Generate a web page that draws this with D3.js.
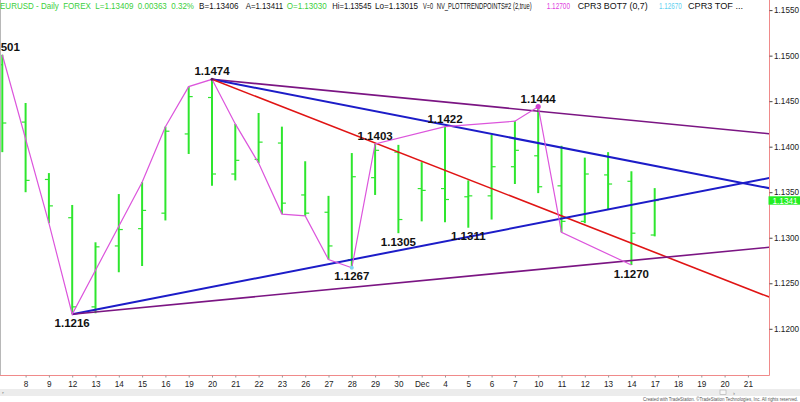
<!DOCTYPE html>
<html>
<head>
<meta charset="utf-8">
<script src="https://cdn.jsdelivr.net/npm/d3@7"></script>
<style>
  body { margin: 0; background: #fff; }
  svg { display: block; font-family: Arial, "Liberation Sans", sans-serif; }
</style>
</head>
<body>
<svg id="chart" width="800" height="402"></svg>
<script>
// ---- EURUSD daily bars (Nov 7 – Dec 17), plus empty future sessions to Dec 21 ----
const dayLabels = ['7','8','9','12','13','14','15','16','19','20','21','22','23','26','27','28','29','30',
                   'Dec','4','5','6','7','10','11','12','13','14','17','18','19','20','21'];
const opens  = [1.1490,1.1427,1.1364,1.1322,1.1224,1.1291,1.1310,1.1327,1.1414,1.1454,1.1370,1.1386,1.1404,1.1347,1.1328,
                1.1276,1.1366,1.1394,1.1354,1.1354,1.1345,1.1346,1.1378,1.1390,1.1357,1.1318,1.1369,1.1362,1.13030];
const highs  = [1.1501,1.1448,1.1371,1.1336,1.1295,1.1348,1.1361,1.1422,1.1466,1.1474,1.1425,1.1437,1.1422,1.1384,1.1346,
                1.1393,1.1403,1.1402,1.1383,1.1422,1.1363,1.1413,1.1428,1.1444,1.1401,1.1388,1.1394,1.1373,1.13545];
const lows   = [1.1394,1.1350,1.1316,1.1216,1.1217,1.1262,1.1269,1.1319,1.1392,1.1357,1.1363,1.1382,1.1326,1.1324,1.1276,
                1.1267,1.1347,1.1305,1.1318,1.1317,1.1311,1.1320,1.1359,1.1349,1.1306,1.1316,1.1331,1.1270,1.13015];
const closes = [1.1426,1.1363,1.1335,1.1224,1.1290,1.1309,1.1330,1.1417,1.1455,1.1370,1.1385,1.1405,1.1338,1.1327,1.1291,
                1.1367,1.1396,1.1320,1.1352,1.1342,1.1346,1.1378,1.1396,1.1356,1.1318,1.1370,1.1359,1.1305,1.13409];
const lastPrice = 1.13409;

// Swing-point zigzag: [bar index, which extreme]
const zigzag = [[0,'high'],[2,'low'],[3,'low'],[6,'high'],[7,'high'],[8,'high'],[9,'high'],[10,'high'],[11,'low'],
                [12,'low'],[13,'low'],[14,'low'],[15,'low'],[16,'high'],[19,'high'],[22,'high'],[23,'high'],[24,'low'],[27,'low']];

// Labelled pivots
const pivots = [[0,'high'],[3,'low'],[9,'high'],[15,'low'],[16,'high'],[17,'low'],[19,'high'],[20,'low'],[23,'high'],[27,'low']];

// Trend lines through two anchor points [index, price], extended to the right edge
const trendLines = [
  { a: [9, 1.1474], b: [23, 1.1439], color: '#7b1583', width: 1.6 },
  { a: [9, 1.1474], b: [23, 1.1404], color: '#1c1cc8', width: 2 },
  { a: [9, 1.1474], b: [16, 1.1404], color: '#e01414', width: 1.6 },
  { a: [3, 1.1216], b: [15, 1.1276], color: '#1c1cc8', width: 2 },
  { a: [3, 1.1216], b: [27, 1.1275], color: '#7b1583', width: 1.6 }
];

const priceTicks = [1.1200,1.1250,1.1300,1.1350,1.1400,1.1450,1.1500,1.1550];

// Status line segments
const headerTexts  = ['EURUSD - Daily  FOREX  L=1.13409  0.00363  0.32%', 'B=1.13406', 'A=1.13411', 'O=1.13030',
                      'Hi=1.13545', 'Lo=1.13015', 'V=0', 'NV_PLOTTRENDPOINTS#2 (2,true)', '1.12700',
                      'CPR3 BOT7 (0,7)', '1.12670', 'CPR3 TOF ...'];
const headerColors = ['#3ccf3c', '#111', '#111', '#3ccf3c', '#111', '#111', '#111', '#111', '#e040e0',
                      '#111', '#5fd0f0', '#111'];

// ---- layout ----
const plotRight = 769, plotBottom = 375.5;
const headerX = [0, 199, 245.7, 286.7, 332.3, 375, 423, 436.7, 546.7, 577.7, 659, 688];
const headerW = [194, 39.5, 37.5, 40, 39.3, 43, 10, 95, 23.3, 70, 22.7, 55];

const svg = d3.select('#chart');
const x = d3.scaleLinear().domain([0, 32]).range([2.3, 747.9]);
const y = d3.scaleLinear().domain([1.12, 1.155]).range([328.8, 10.1]);
const fmt = d3.format('.4f');
const val = (i, side) => side === 'high' ? highs[i] : lows[i];

svg.append('defs').append('clipPath').attr('id', 'plot')
  .append('rect').attr('x', 0).attr('y', 0).attr('width', plotRight).attr('height', plotBottom);

const plot = svg.append('g').attr('clip-path', 'url(#plot)');

// left border
svg.append('line').attr('x1', 0.5).attr('x2', 0.5).attr('y1', 0).attr('y2', plotBottom)
  .attr('stroke', '#b8b8b8').attr('stroke-width', 1);

// OHLC bars
const bars = plot.append('g');
opens.forEach((o, i) => {
  const cx = x(i);
  bars.append('line').attr('x1', cx).attr('x2', cx).attr('y1', y(highs[i])).attr('y2', y(lows[i]))
    .attr('stroke', '#2ee62e').attr('stroke-width', 2);
  bars.append('line').attr('x1', cx - 4).attr('x2', cx).attr('y1', y(o)).attr('y2', y(o))
    .attr('stroke', '#2ee62e').attr('stroke-width', 1.2);
  bars.append('line').attr('x1', cx).attr('x2', cx + 4).attr('y1', y(closes[i])).attr('y2', y(closes[i]))
    .attr('stroke', '#2ee62e').attr('stroke-width', 1.2);
});

// trend lines
const iRight = x.invert(plotRight + 2);
trendLines.forEach(t => {
  const slope = (t.b[1] - t.a[1]) / (t.b[0] - t.a[0]);
  const endP = t.a[1] + slope * (iRight - t.a[0]);
  plot.append('line')
    .attr('x1', x(t.a[0])).attr('y1', y(t.a[1]))
    .attr('x2', x(iRight)).attr('y2', y(endP))
    .attr('stroke', t.color).attr('stroke-width', t.width);
});

// zigzag
plot.append('path')
  .datum(zigzag)
  .attr('fill', 'none').attr('stroke', '#dc55dc').attr('stroke-width', 1.2)
  .attr('d', d3.line().x(d => x(d[0])).y(d => y(val(d[0], d[1]))));

// pivot markers
plot.append('circle').attr('cx', x(23)).attr('cy', y(highs[23])).attr('r', 2.6).attr('fill', '#d040d0');
plot.append('circle').attr('cx', x(15)).attr('cy', y(lows[15])).attr('r', 2).attr('fill', '#7fd4f2');
plot.append('circle').attr('cx', x(9)).attr('cy', y(highs[9])).attr('r', 1.5).attr('fill', '#5a1a5a');

// pivot labels
plot.append('g').selectAll('text').data(pivots).join('text')
  .attr('x', d => x(d[0]))
  .attr('y', d => d[1] === 'high' ? y(val(d[0], d[1])) - 4 : y(val(d[0], d[1])) + 12.5)
  .attr('text-anchor', 'middle')
  .attr('font-size', 11.5).attr('font-weight', 'bold').attr('fill', '#111')
  .text(d => fmt(val(d[0], d[1])));

// frame lines
svg.append('line').attr('x1', plotRight + 0.5).attr('x2', plotRight + 0.5).attr('y1', 0).attr('y2', plotBottom)
  .attr('stroke', '#f08a8a').attr('stroke-width', 1);
svg.append('line').attr('x1', 0).attr('x2', plotRight + 0.5).attr('y1', plotBottom).attr('y2', plotBottom)
  .attr('stroke', '#f08a8a').attr('stroke-width', 1);

// price axis
const yAxis = svg.append('g').attr('transform', `translate(${plotRight + 0.5},0)`)
  .call(d3.axisRight(y).tickValues(priceTicks).tickFormat(fmt).tickSize(3).tickPadding(1.5));
yAxis.select('.domain').remove();
yAxis.selectAll('line').attr('stroke', '#444');
yAxis.selectAll('text').attr('font-size', 8.2).attr('fill', '#222').attr('font-family', 'Arial, "Liberation Sans", sans-serif');

// last price marker
svg.append('rect').attr('x', plotRight - 0.5).attr('y', y(lastPrice) - 4.2).attr('width', 32).attr('height', 8.4)
  .attr('fill', '#22ee22');
svg.append('text').attr('x', plotRight + 3.5).attr('y', y(lastPrice) + 3)
  .attr('font-size', 8.2).attr('fill', '#fff').text(fmt(lastPrice));

// date axis
const xAxis = svg.append('g').attr('transform', `translate(0,${plotBottom})`)
  .call(d3.axisBottom(x).tickValues(d3.range(1, dayLabels.length)).tickFormat(i => dayLabels[i])
    .tickSize(2).tickPadding(4));
xAxis.select('.domain').remove();
xAxis.selectAll('line').attr('stroke', '#999');
xAxis.selectAll('text').attr('font-size', 8.2).attr('fill', '#222').attr('font-family', 'Arial, "Liberation Sans", sans-serif');

// scroll strip and credits
svg.append('rect').attr('x', 0).attr('y', 389).attr('width', 800).attr('height', 7).attr('fill', '#ececec');
svg.append('text').attr('x', 2).attr('y', 395).attr('font-size', 6).attr('fill', '#888').text('‣');
svg.append('rect').attr('x', 720).attr('y', 390).attr('width', 6).attr('height', 4.5)
  .attr('fill', '#f8f8f8').attr('stroke', '#aaa').attr('stroke-width', 0.6);
svg.append('text').attr('x', 733).attr('y', 395).attr('font-size', 6).attr('fill', '#777').text('›');
svg.append('text').attr('x', 643).attr('y', 400.5).attr('font-size', 5).attr('fill', '#555')
  .attr('textLength', 155).attr('lengthAdjust', 'spacingAndGlyphs')
  .text('Created with TradeStation. ©TradeStation Technologies, Inc. All rights reserved.');

// status line
svg.append('g').selectAll('text').data(headerTexts).join('text')
  .attr('x', (d, i) => headerX[i]).attr('y', 8.8)
  .attr('font-size', 8.2).attr('fill', (d, i) => headerColors[i])
  .attr('textLength', (d, i) => headerW[i]).attr('lengthAdjust', 'spacingAndGlyphs')
  .style('white-space', 'pre')
  .text(d => d);
</script>
</body>
</html>
